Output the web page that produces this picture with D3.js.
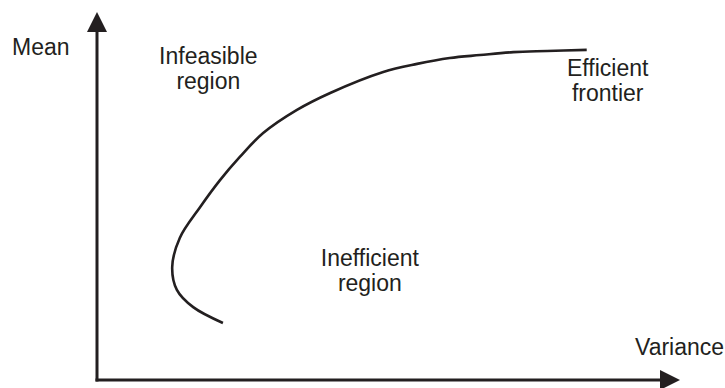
<!DOCTYPE html>
<html>
<head>
<meta charset="utf-8">
<script src="https://cdn.jsdelivr.net/npm/d3@7"></script>
<style>
  html, body { margin: 0; padding: 0; background: #fff; }
  svg { display: block; }
  text { font-family: "Liberation Sans", Arial, Helvetica, sans-serif; fill: #231f20; }
</style>
</head>
<body>
<svg id="chart" width="725" height="388"></svg>
<script>
// Efficient frontier curve (variance, mean) in arbitrary units
const frontierVariance = [2.16, 1.65, 1.37, 1.29, 1.42, 1.77, 2.11, 2.45, 2.85, 3.43, 4.00, 4.91, 5.49, 6.05, 6.57, 7.14, 7.72, 8.40];
const frontierMean     = [1.55, 1.98, 2.45, 3.07, 3.86, 4.70, 5.43, 6.06, 6.71, 7.34, 7.80, 8.37, 8.59, 8.75, 8.83, 8.91, 8.94, 8.97];

const axisLabels = ["Variance", "Mean"];
const regionLabels = [
  { lines: ["Infeasible", "region"], v: 1.91, m: 8.6 },
  { lines: ["Inefficient", "region"], v: 4.68, m: 3.1 },
  { lines: ["Efficient", "frontier"], v: 8.76, m: 8.27 }
];

const svg = d3.select("#chart");
const ink = "#231f20";

const x = d3.scaleLinear().domain([0, 10]).range([97, 680]);
const y = d3.scaleLinear().domain([0, 10]).range([380, 12]);

const [x0, x1] = x.range();
const [y0, y1] = y.range();
const arrowLen = 20, arrowHalf = 10;

// Axes (no ticks)
svg.append("line")
  .attr("x1", x0).attr("y1", y0 + 1.5)
  .attr("x2", x0).attr("y2", y1 + arrowLen)
  .attr("stroke", ink).attr("stroke-width", 3);
svg.append("line")
  .attr("x1", x0 - 1.5).attr("y1", y0)
  .attr("x2", x1 - arrowLen).attr("y2", y0)
  .attr("stroke", ink).attr("stroke-width", 3);

// Arrowheads
svg.append("path")
  .attr("d", `M${x0},${y1}L${x0 - arrowHalf},${y1 + arrowLen}L${x0 + arrowHalf},${y1 + arrowLen}Z`)
  .attr("fill", ink);
svg.append("path")
  .attr("d", `M${x1},${y0}L${x1 - arrowLen},${y0 - arrowHalf}L${x1 - arrowLen},${y0 + arrowHalf}Z`)
  .attr("fill", ink);

// Frontier curve
const pts = frontierVariance.map((v, i) => [v, frontierMean[i]]);
const line = d3.line()
  .x(d => x(d[0]))
  .y(d => y(d[1]))
  .curve(d3.curveCatmullRom.alpha(0.5));
svg.append("path")
  .attr("d", line(pts))
  .attr("fill", "none")
  .attr("stroke", ink)
  .attr("stroke-width", 2.6)
  .attr("stroke-linecap", "butt");

const fs = 23;

// Axis labels
svg.append("text")
  .attr("x", 635).attr("y", 355)
  .attr("font-size", fs)
  .text(axisLabels[0]);
svg.append("text")
  .attr("x", 12).attr("y", 55)
  .attr("font-size", fs)
  .text(axisLabels[1]);

// Region labels
regionLabels.forEach(r => {
  const t = svg.append("text")
    .attr("x", x(r.v)).attr("y", y(r.m))
    .attr("text-anchor", "middle")
    .attr("font-size", fs);
  r.lines.forEach((l, i) => {
    t.append("tspan")
      .attr("x", x(r.v))
      .attr("dy", i === 0 ? 0 : 25.5)
      .text(l);
  });
});
</script>
</body>
</html>
